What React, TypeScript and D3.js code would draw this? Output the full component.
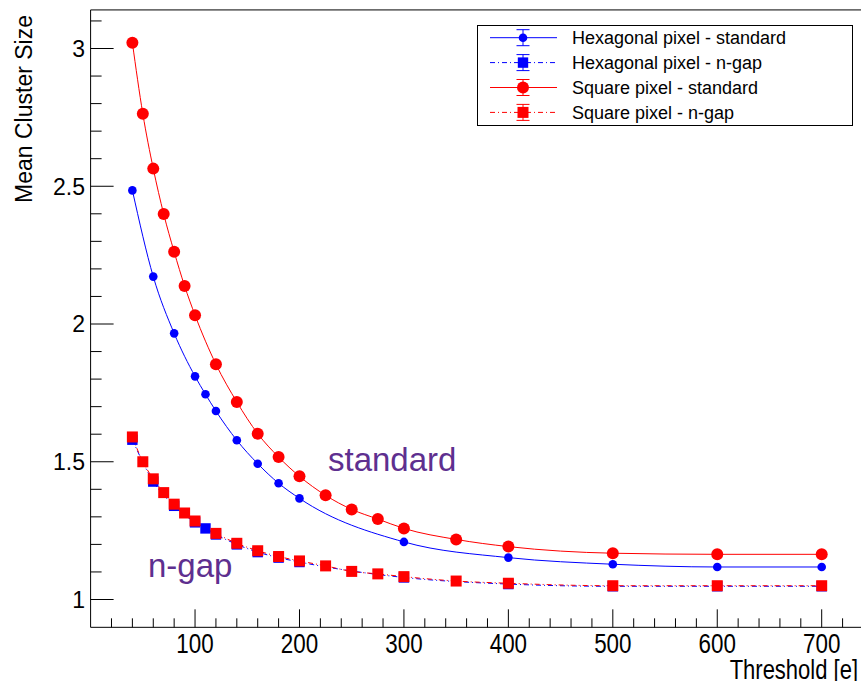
import React from "react";
import * as d3 from "d3";

// threshold values [e]
const hexStdX = [40, 60, 80, 100, 110, 120, 140, 160, 180, 200, 300, 400, 500, 600, 700];
const hexStdY = [2.485, 2.172, 1.966, 1.81, 1.745, 1.684, 1.578, 1.493, 1.422, 1.367, 1.209, 1.152, 1.128, 1.118, 1.118];
const hexGapX = [40, 60, 80, 100, 110, 120, 140, 160, 180, 200, 300, 400, 500, 600, 700];
const hexGapY = [1.58, 1.428, 1.34, 1.28, 1.258, 1.236, 1.2, 1.172, 1.152, 1.136, 1.08, 1.056, 1.048, 1.048, 1.048];
const sqStdX = [40, 50, 60, 70, 80, 90, 100, 120, 140, 160, 180, 200, 225, 250, 275, 300, 350, 400, 500, 600, 700];
const sqStdY = [3.021, 2.763, 2.564, 2.399, 2.262, 2.138, 2.032, 1.854, 1.717, 1.602, 1.517, 1.447, 1.378, 1.327, 1.292, 1.258, 1.218, 1.192, 1.168, 1.164, 1.164];
const sqGapX = [40, 50, 60, 70, 80, 90, 100, 120, 140, 160, 180, 200, 225, 250, 275, 300, 350, 400, 500, 600, 700];
const sqGapY = [1.59, 1.5, 1.438, 1.388, 1.346, 1.314, 1.285, 1.24, 1.204, 1.177, 1.156, 1.14, 1.122, 1.102, 1.093, 1.083, 1.067, 1.059, 1.05, 1.05, 1.05];

const xMajor = [100, 200, 300, 400, 500, 600, 700];
const yMajor = [1, 1.5, 2, 2.5, 3];

const series = [
  { name: "Hexagonal pixel - standard", xs: hexStdX, ys: hexStdY, color: "#0000ff", marker: "circle", size: 4.3, dashed: false },
  { name: "Hexagonal pixel - n-gap", xs: hexGapX, ys: hexGapY, color: "#0000ff", marker: "square", size: 5.2, dashed: true },
  { name: "Square pixel - standard", xs: sqStdX, ys: sqStdY, color: "#ff0000", marker: "circle", size: 6, dashed: false },
  { name: "Square pixel - n-gap", xs: sqGapX, ys: sqGapY, color: "#ff0000", marker: "square", size: 5.5, dashed: true },
];

const W = 861;
const H = 681;
const font = "'Liberation Sans', Arial, Helvetica, sans-serif";
const dash = "5,3,1,3";

const x = d3.scaleLinear().domain([0, 700]).range([90.6, 821.7]);
const y = d3.scaleLinear().domain([1, 3]).range([599.5, 48.5]);

const Marker = ({ kind, cx, cy, r, color }: any) =>
  kind === "circle" ? (
    <circle cx={cx} cy={cy} r={r} fill={color} />
  ) : (
    <rect x={cx - r} y={cy - r} width={2 * r} height={2 * r} fill={color} />
  );

export default function App() {
  const left = x(0);
  const right = x(760);
  const top = y(3.14);
  const bottom = y(0.899);

  const line = d3
    .line<[number, number]>()
    .x((d) => x(d[0]))
    .y((d) => y(d[1]))
    .curve(d3.curveMonotoneX);

  const yMinor = d3.range(10, 32).map((v) => v / 10);
  const xMinor = d3.range(20, 760, 20);

  return (
    <svg
      width={W}
      height={H}
      style={{ position: "absolute", left: 0, top: 0, background: "#fff" }}
      fontFamily={font}
    >
      <rect x={0} y={0} width={W} height={H} fill="#fff" />

      {/* curves */}
      {series.map((s) => (
        <path
          key={s.name + "l"}
          d={line(s.xs.map((v, i) => [v, s.ys[i]] as [number, number])) || ""}
          fill="none"
          stroke={s.color}
          strokeWidth={1}
          strokeDasharray={s.dashed ? dash : undefined}
        />
      ))}
      {/* markers */}
      {series.map((s) =>
        s.xs.map((v, i) => (
          <Marker key={s.name + i} kind={s.marker} cx={x(v)} cy={y(s.ys[i])} r={s.size} color={s.color} />
        ))
      )}

      {/* frame */}
      <path d={`M${right},${top}H${left}V${bottom}H${right}`} fill="none" stroke="#000" strokeWidth={1} />

      {/* y axis ticks */}
      {yMinor.map((v) => {
        const major = yMajor.some((m) => Math.abs(m - v) < 1e-6);
        return (
          <line key={"yt" + v} x1={left} x2={left + (major ? 23 : 11)} y1={y(v)} y2={y(v)} stroke="#000" strokeWidth={1} />
        );
      })}
      {yMajor.map((v) => (
        <text key={"yl" + v} x={85} y={y(v)} dy="0.36em" textAnchor="end" fontSize={23} fill="#000">
          {d3.format("~g")(v)}
        </text>
      ))}
      <text transform={`translate(32,15) rotate(-90)`} textAnchor="end" fontSize={23} fill="#000">
        Mean Cluster Size
      </text>

      {/* x axis ticks */}
      {xMinor.map((v) => {
        const major = v % 100 === 0;
        return (
          <line key={"xt" + v} x1={x(v)} x2={x(v)} y1={bottom} y2={bottom - (major ? 18 : 9)} stroke="#000" strokeWidth={1} />
        );
      })}
      {xMajor.map((v) => (
        <g key={"xl" + v} transform={`translate(${x(v)},653) scale(0.8,1)`}>
          <text textAnchor="middle" fontSize={28} fill="#000">
            {v}
          </text>
        </g>
      ))}
      <g transform={`translate(858,679) scale(0.8,1)`}>
        <text textAnchor="end" fontSize={27.5} fill="#000">
          Threshold [e]
        </text>
      </g>

      {/* annotations */}
      <text x={328} y={471} fontSize={33} fill="#5e2f8f">
        standard
      </text>
      <text x={148} y={577} fontSize={33} fill="#5e2f8f">
        n-gap
      </text>

      {/* legend */}
      <rect x={477.5} y={25.5} width={375} height={100} fill="#fff" stroke="#000" strokeWidth={1} />
      {series.map((s, i) => {
        const ly = 37.7 + i * 24.9;
        return (
          <g key={"lg" + i}>
            <line x1={490} x2={557} y1={ly} y2={ly} stroke={s.color} strokeDasharray={s.dashed ? dash : undefined} />
            <line x1={523} x2={523} y1={ly - 8} y2={ly + 8} stroke={s.color} strokeDasharray={s.dashed ? dash : undefined} />
            <line x1={516.5} x2={529.5} y1={ly - 8} y2={ly - 8} stroke={s.color} />
            <line x1={516.5} x2={529.5} y1={ly + 8} y2={ly + 8} stroke={s.color} />
            <Marker kind={s.marker} cx={523} cy={ly} r={s.size} color={s.color} />
            <text x={572} y={ly} dy="0.35em" fontSize={18} fill="#000">
              {s.name}
            </text>
          </g>
        );
      })}
    </svg>
  );
}
